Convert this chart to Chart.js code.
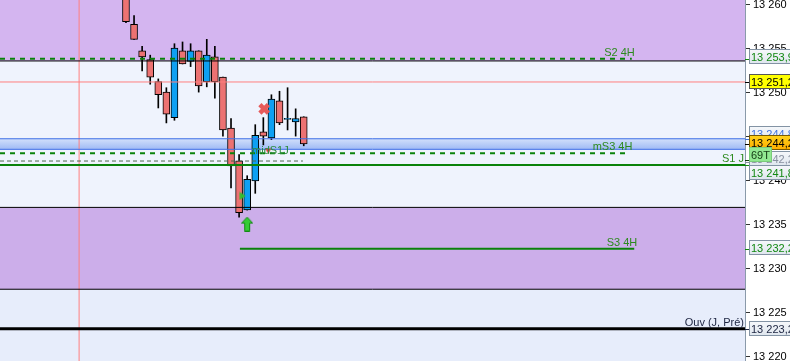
<!DOCTYPE html>
<html>
<head>
<meta charset="utf-8">
<script src="https://cdn.jsdelivr.net/npm/chart.js@4.4.1/dist/chart.umd.min.js"></script>
<style>
  html, body { margin:0; padding:0; background:#fff; }
  #wrap { width:790px; height:361px; position:relative; }
</style>
</head>
<body>
<div id="wrap"><canvas id="chart"></canvas></div>
<script>
// --- bougies (index de barre, O/H/L/C) ---
const candleIdx = [0,1,2,3,4,5,6,7,8,9,10,11,12,13,14,15,16,17,18,19,20,21,22];
const opens  = [13261.5,13257.8,13254.8,13253.8,13251.3,13250.1,13247.2,13254.8,13253.6,13254.8,13251.3,13254.1,13251.8,13246.0,13242.3,13236.7,13240.0,13245.6,13244.9,13249.1,13247.0,13246.7,13247.3];
const highs  = [13262.0,13258.8,13255.3,13254.3,13251.6,13250.6,13255.6,13255.8,13255.6,13254.8,13256.1,13255.3,13251.8,13247.1,13243.0,13240.6,13246.4,13247.2,13249.8,13250.2,13250.6,13248.2,13247.3];
const lows   = [13258.0,13256.1,13252.5,13251.0,13248.3,13246.6,13246.9,13253.3,13253.0,13250.1,13250.7,13249.4,13245.1,13239.2,13235.9,13236.7,13238.6,13244.1,13244.7,13246.4,13245.8,13245.1,13244.0];
const closes = [13258.1,13256.1,13254.1,13251.8,13249.8,13247.6,13255.1,13253.3,13254.8,13250.8,13254.3,13251.3,13245.8,13241.7,13236.4,13240.2,13245.2,13245.1,13249.3,13246.6,13247.0,13247.1,13244.2];

// --- bornes visibles ---
const xMin = -15.59, xMax = 76.61;
const yMin = 13219.545, yMax = 13260.568;

// --- axe des prix ---
const yTickValues = [13220,13225,13230,13235,13240,13245,13250,13255,13260];
const yTickLabels = ['13 220','13 225','13 230','13 235','13 240','','13 250','13 255','13 260'];

// --- zones (haut / bas) ---
const bandHigh = [yMax, 13237.0, 13244.8, 13227.7];
const bandLow  = [13253.64, 13227.7, 13243.6, yMin];
const bandEdges = [13253.64, 13237.0, 13227.7];
const blueEdges = [13244.8, 13243.6];

// --- niveaux ---
const levelNames  = ['S2 4H','mS3 4H','','S1 J','S3 4H','Ouv (J, Pré)'];
const levelValues = [13253.9, 13243.15, 13242.27, 13241.82, 13232.3, 13223.2];
const levelFrom   = [xMin, xMin, xMin, xMin, 14.1, xMin];
const levelTo     = [62.6, 62.3, 21.9, xMax, 62.9, xMax];

// --- repères rouges ---
const refPrice = 13251.25;
const refBar = -5.8;

// --- marqueurs ---
const crossPts = [{x:17.1, y:13248.2}];
const upArrows = [{x:15.0, y:13235.1}];
const rightTris = [{x:14.45, y:13238.3}];
const downTris = [{x:17.6, y:13243.4}];
const midLabel = {text:'midS1J', x:15.6, y:13243.6};

// --- étiquettes de prix ---
const tagValues = [13253.9, 13251.2, 13244.8, 13244.2, 13242.2, 13242.4, 13241.8, 13232.3, 13223.2];
const tagTexts  = ['13 253,9','13 251,2','13 244,8','13 244,2','13 242,2','69T','13 241,8','13 232,2','13 223,2'];

// styles
const FONT = '"Liberation Sans", Arial, sans-serif';
const bandColors = ['#d4b5f0', '#ccaeea', null, '#e7edfb'];
const levelColor = ['#0a820a','#0a820a','#4d684d','#0a820a','#0a820a','#000000'];
const levelWidth = [2,2,1,2,2,3];
const levelDash  = [[5,5],[5,5],[4,3],[],[],[]];
const tagShift   = [-2, 0, -5, -1, -3, -5, 8, -1, 0];
const tagStyle = [
  {fg:'#118811', bg:'light'}, {fg:'#000', bg:'#ffff00', bd:'#555'},
  {fg:'#3f72dc', bg:'light'}, {fg:'#000', bg:'orange', bd:'#7a5a00'},
  {fg:'#8890a0', bg:'light'}, {fg:'#143a14', bg:'#92e892', bd:'#7acc7a', w:22},
  {fg:'#118811', bg:'light'}, {fg:'#118811', bg:'light'}, {fg:'#1c2440', bg:'light'}
];

function hline(v, from, to, color, width, dash, order) {
  return { type:'line', data:[{x:from,y:v},{x:to,y:v}], borderColor:color, borderWidth:width,
    borderDash:dash || [], pointRadius:0, fill:false, order:order, tension:0 };
}

function makeIcon(w, h, draw) {
  const c = document.createElement('canvas');
  c.width = w; c.height = h;
  draw(c.getContext('2d'));
  return c;
}
const arrowIcon = makeIcon(12, 15, g => {
  g.beginPath();
  g.moveTo(6, 0.5); g.lineTo(11.5, 6.5); g.lineTo(8.5, 6.5); g.lineTo(8.5, 14.5);
  g.lineTo(3.5, 14.5); g.lineTo(3.5, 6.5); g.lineTo(0.5, 6.5); g.closePath();
  g.fillStyle = '#35cc35'; g.fill(); g.strokeStyle = '#138a13'; g.lineWidth = 1; g.stroke();
});
const rightIcon = makeIcon(7, 9, g => {
  g.beginPath(); g.moveTo(0.5,0.5); g.lineTo(6.5,4.5); g.lineTo(0.5,8.5); g.closePath();
  g.fillStyle = '#2fc02f'; g.fill();
});
const downIcon = makeIcon(7, 6, g => {
  g.beginPath(); g.moveTo(0.5,0.5); g.lineTo(6.5,0.5); g.lineTo(3.5,5.5); g.closePath();
  g.fillStyle = '#e03838'; g.fill();
});

const datasets = [];

// zones
bandHigh.forEach((hi, i) => {
  const isBlue = bandColors[i] === null;
  datasets.push({
    type:'line', data:[{x:xMin,y:hi},{x:xMax,y:hi}], pointRadius:0, borderWidth:0,
    fill:{value:bandLow[i]}, order:20,
    backgroundColor: isBlue ? (ctx => {
      const ch = ctx.chart, s = ch.scales.y;
      if (!ch.chartArea || !s) return '#b8ccf8';
      const g = ch.ctx.createLinearGradient(0, s.getPixelForValue(bandHigh[i]), 0, s.getPixelForValue(bandLow[i]));
      g.addColorStop(0, '#d2e0fb'); g.addColorStop(1, '#9fbaf5');
      return g;
    }) : bandColors[i]
  });
});

// mèches et corps
datasets.push({
  type:'bar', data:candleIdx.map(i => ({x:i, y:[lows[i], highs[i]]})),
  backgroundColor:'#000', barThickness:1, grouped:false, order:6
});
datasets.push({
  type:'bar', data:candleIdx.map(i => ({x:i, y:[opens[i], closes[i]]})),
  backgroundColor:candleIdx.map(i => closes[i] >= opens[i] ? '#0ea0f2' : '#ec7272'),
  borderColor:'#000', borderWidth:1, borderSkipped:false, barThickness:7,
  minBarLength:1, grouped:false, order:5
});

// lignes
bandEdges.forEach(v => datasets.push(hline(v, xMin, xMax, '#000', 1, null, 4)));
blueEdges.forEach(v => datasets.push(hline(v, xMin, xMax, '#3f6fe6', 1, null, 4)));
datasets.push(hline(refPrice, xMin, xMax, '#ff7f7f', 1, null, 4));
datasets.push({ type:'line', data:[{x:refBar,y:yMin},{x:refBar,y:yMax}], borderColor:'#ff7f7f',
  borderWidth:1, pointRadius:0, fill:false, order:4 });
levelValues.forEach((v, i) => datasets.push(hline(v, levelFrom[i], levelTo[i], levelColor[i], levelWidth[i], levelDash[i], 3)));

// marqueurs
datasets.push({ type:'line', data:crossPts, showLine:false, pointStyle:'crossRot', pointRadius:6,
  pointBorderWidth:4.5, pointBorderColor:'#e65a5a', order:1 });
datasets.push({ type:'line', data:upArrows, showLine:false, pointStyle:arrowIcon, order:1 });
datasets.push({ type:'line', data:rightTris, showLine:false, pointStyle:rightIcon, order:1 });
datasets.push({ type:'line', data:downTris, showLine:false, pointStyle:downIcon, order:1 });

const backdrop = {
  id:'backdrop',
  beforeDraw(chart) {
    const {ctx, chartArea:a} = chart;
    ctx.save();
    ctx.fillStyle = '#fff'; ctx.fillRect(0, 0, chart.width, chart.height);
    ctx.fillStyle = '#eff3fd'; ctx.fillRect(a.left, a.top, a.right - a.left, a.bottom - a.top);
    ctx.restore();
  }
};

const texts = {
  id:'texts',
  afterDatasetsDraw(chart) {
    const {ctx} = chart, xs = chart.scales.x, ys = chart.scales.y;
    ctx.save();
    ctx.font = '11px ' + FONT;
    ctx.textBaseline = 'alphabetic';
    ctx.textAlign = 'right';
    levelNames.forEach((n, i) => {
      if (!n) return;
      ctx.fillStyle = i === 5 ? '#1c2440' : '#2d8a1e';
      const x = Math.min(xs.getPixelForValue(levelTo[i]) + 3, chart.chartArea.right - 1);
      ctx.fillText(n, x, Math.round(ys.getPixelForValue(levelValues[i])) - 3);
    });
    ctx.textAlign = 'left';
    ctx.fillStyle = '#2a8a3a';
    ctx.fillText(midLabel.text, xs.getPixelForValue(midLabel.x), ys.getPixelForValue(midLabel.y) + 5);
    ctx.restore();
  },
  afterDraw(chart) {
    const {ctx} = chart, ys = chart.scales.y, x0 = chart.chartArea.right;
    ctx.save();
    ctx.font = '11px ' + FONT;
    ctx.textBaseline = 'middle';
    ctx.textAlign = 'left';
    tagValues.forEach((v, i) => {
      const st = tagStyle[i];
      const yp = Math.round(ys.getPixelForValue(v));
      const cy = yp + tagShift[i];
      const w = st.w || 60, bx = x0 + 4.5, by = cy - 7.5;
      ctx.strokeStyle = st.fg;
      ctx.lineWidth = 1;
      ctx.beginPath(); ctx.moveTo(x0, yp + 0.5); ctx.lineTo(x0 + 5, yp + 0.5); ctx.stroke();
      let fill = st.bg;
      if (st.bg === 'light') {
        fill = ctx.createLinearGradient(0, by, 0, by + 14);
        fill.addColorStop(0, '#f6f8fb'); fill.addColorStop(1, '#dfe6ee');
      } else if (st.bg === 'orange') {
        fill = ctx.createLinearGradient(0, by, 0, by + 14);
        fill.addColorStop(0, '#ffd21a'); fill.addColorStop(1, '#ffae00');
      }
      ctx.fillStyle = fill;
      ctx.fillRect(bx, by, w, 14);
      ctx.strokeStyle = st.bd || '#8393a4';
      ctx.strokeRect(bx, by, w, 14);
      ctx.fillStyle = st.fg;
      ctx.fillText(tagTexts[i], bx + 1.5, cy + 0.5);
    });
    ctx.restore();
  }
};

new Chart(document.getElementById('chart'), {
  type:'bar',
  data:{ datasets },
  options:{
    responsive:true, maintainAspectRatio:false, animation:false,
    layout:{ padding:0, autoPadding:false },
    plugins:{ legend:{display:false}, tooltip:{enabled:false} },
    scales:{
      x:{ type:'linear', min:xMin, max:xMax, offset:false, display:false },
      y:{
        type:'linear', position:'right', min:yMin, max:yMax, beginAtZero:false,
        afterBuildTicks: s => { s.ticks = yTickValues.map(v => ({value:v})); },
        afterFit: s => { s.width = 45; s.paddingTop = 0; s.paddingBottom = 0; },
        ticks:{ autoSkip:false, padding:3, color:'#000', font:{family:FONT, size:11},
          callback: v => yTickLabels[yTickValues.indexOf(v)] },
        grid:{ drawOnChartArea:false, drawTicks:true, tickLength:5, color:'#333' },
        border:{ color:'#8a9aaa', width:1 }
      }
    }
  },
  plugins:[backdrop, texts]
});
</script>
</body>
</html>
